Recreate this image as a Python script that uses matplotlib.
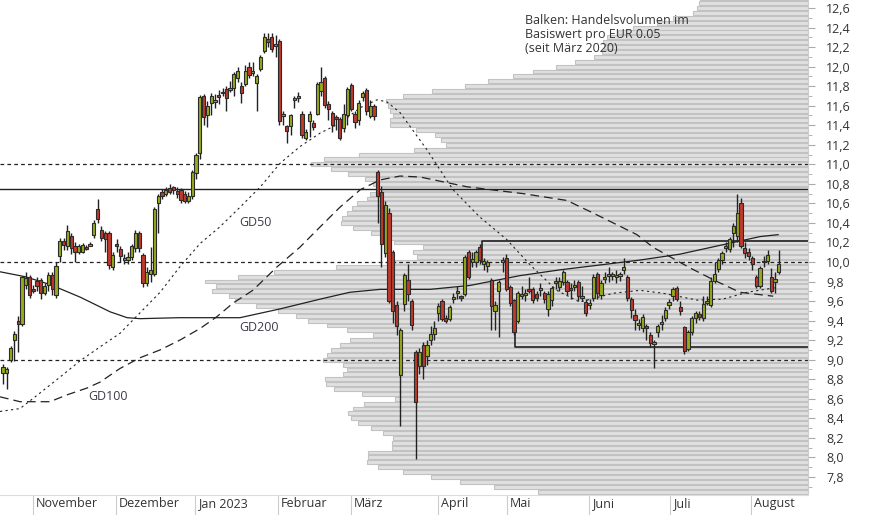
import matplotlib
matplotlib.use("Agg")
import matplotlib.pyplot as plt
import numpy as np

plt.rcParams['font.family'] = ['Open Sans', 'DejaVu Sans']

# ---- candles (open, high, low, close), one per trading day ----
ohlc = [
(8.86,8.96,8.75,8.93),(8.86,8.93,8.70,8.90),(9.00,9.14,8.98,9.12),(9.20,9.29,8.99,9.26),(9.40,9.45,9.08,9.37),
(9.37,9.86,9.35,9.85),(9.76,9.90,9.72,9.84),(9.85,9.87,9.63,9.66),(9.72,9.76,9.68,9.71),(9.81,9.85,9.70,9.75),
(9.82,9.84,9.62,9.68),(9.68,9.78,9.66,9.75),(9.76,9.90,9.70,9.87),(9.87,9.90,9.66,9.72),(9.66,10.00,9.63,9.96),
(10.06,10.25,10.00,10.21),(10.21,10.25,10.12,10.17),(10.16,10.38,10.12,10.32),(10.27,10.30,10.08,10.14),(10.16,10.20,10.00,10.10),
(10.10,10.18,10.08,10.16),(10.10,10.19,10.09,10.17),(10.15,10.17,10.12,10.13),(10.17,10.20,10.16,10.18),(10.28,10.43,10.25,10.40),
(10.54,10.65,10.40,10.44),(10.33,10.37,10.22,10.25),(10.30,10.32,10.10,10.24),(10.30,10.32,9.93,9.97),(9.95,10.10,9.92,10.07),
(10.18,10.24,10.10,10.16),(10.13,10.16,10.00,10.06),(10.03,10.08,9.98,10.04),(10.02,10.10,9.98,10.05),(10.05,10.18,10.02,10.16),
(10.14,10.33,10.10,10.30),(10.30,10.32,10.10,10.14),(10.07,10.09,9.74,9.78),(9.78,9.95,9.75,9.90),(9.88,10.15,9.80,9.92),
(9.88,10.56,9.86,10.54),(10.60,10.70,10.30,10.68),(10.72,10.75,10.65,10.68),(10.70,10.77,10.68,10.74),(10.76,10.80,10.70,10.72),
(10.77,10.78,10.70,10.74),(10.73,10.77,10.66,10.70),(10.74,10.76,10.60,10.63),(10.70,10.73,10.60,10.62),(10.62,10.72,10.60,10.68),
(10.68,10.94,10.65,10.92),(10.91,11.12,10.85,11.10),
(11.12,11.71,11.05,11.69),(11.70,11.72,11.40,11.48),(11.50,11.65,11.38,11.60),(11.63,11.73,11.50,11.70),(11.64,11.72,11.58,11.65),
(11.71,11.76,11.62,11.69),(11.73,11.78,11.70,11.74),(11.77,11.80,11.55,11.68),(11.76,11.85,11.74,11.78),(11.78,11.94,11.70,11.92),
(11.88,12.00,11.84,11.96),(11.80,11.84,11.63,11.73),(11.82,12.02,11.80,11.96),(12.00,12.05,11.88,11.91),(11.94,12.05,11.90,11.95),
(11.83,11.92,11.55,11.90),(11.98,12.12,11.96,12.10),(12.16,12.34,12.14,12.30),(12.28,12.34,12.20,12.25),(12.30,12.34,12.15,12.18),
(12.22,12.32,12.10,12.23),(12.26,12.28,11.40,11.44),(11.50,11.55,11.40,11.51),(11.39,11.40,11.22,11.34),(11.39,11.52,11.30,11.50),
(11.66,11.70,11.58,11.67),(11.68,11.74,11.64,11.69),(11.52,11.55,11.27,11.30),(11.27,11.36,11.25,11.33),(11.44,11.55,11.28,11.52),
(11.42,11.45,11.35,11.38),(11.52,11.84,11.50,11.82),(11.75,12.00,11.70,11.84),(11.88,11.90,11.58,11.61),(11.62,11.65,11.45,11.57),
(11.53,11.55,11.33,11.40),(11.48,11.50,11.35,11.46),(11.46,11.48,11.25,11.27),(11.37,11.62,11.33,11.52),(11.50,11.79,11.40,11.77),
(11.81,11.83,11.55,11.57),(11.52,11.55,11.37,11.43),(11.45,11.66,11.40,11.63),(11.69,11.75,11.65,11.73),(11.76,11.78,11.50,11.55),
(11.49,11.66,11.47,11.60),(11.60,11.62,11.45,11.49),(10.92,10.94,10.40,10.68),(10.72,10.78,9.95,10.18),(10.09,10.62,10.05,10.58),
(10.50,10.55,9.58,9.60),(10.10,10.12,9.38,9.50),(9.56,9.60,9.25,9.35),(8.84,9.32,8.32,9.30),(9.57,9.89,9.50,9.87),
(9.82,9.98,9.60,9.67),(9.60,9.62,9.30,9.36),(9.08,9.10,7.98,8.57),(8.94,9.12,8.85,9.08),(9.15,9.18,8.80,8.94),
(9.04,9.20,8.95,9.15),(9.20,9.35,9.15,9.26),(9.26,9.40,9.20,9.32),(9.48,9.58,9.40,9.55),(9.60,9.62,9.40,9.42),
(9.43,9.46,9.38,9.40),(9.42,9.56,9.40,9.54),(9.63,9.68,9.58,9.64),(9.69,9.75,9.62,9.70),(9.65,9.66,9.60,9.63),
(9.67,10.07,9.65,10.05),(10.10,10.12,9.83,9.85),(10.00,10.10,9.95,10.03),(10.00,10.12,9.95,10.10),(10.15,10.18,9.98,10.02),
(9.98,10.04,9.92,10.01),(9.96,10.02,9.90,10.00),(9.82,9.84,9.30,9.55),(9.50,9.60,9.30,9.56),(9.70,9.82,9.23,9.80),
(10.01,10.05,9.90,10.02),(10.04,10.08,9.70,9.72),(9.74,9.76,9.55,9.58),(9.61,9.62,9.25,9.28),(9.40,9.70,9.38,9.68),
(9.66,9.75,9.62,9.67),(9.67,9.72,9.60,9.68),(9.72,9.85,9.68,9.71),(9.72,9.74,9.58,9.61),(9.67,9.70,9.60,9.63),
(9.72,9.78,9.65,9.73),(9.68,9.70,9.58,9.62),(9.52,9.70,9.45,9.67),(9.61,9.75,9.55,9.73),(9.79,9.85,9.72,9.80),
(9.74,9.85,9.70,9.81),(9.80,9.92,9.76,9.90),(9.80,9.82,9.66,9.70),(9.73,9.78,9.62,9.71),(9.75,9.82,9.70,9.76),
(9.80,9.82,9.60,9.65),(9.64,9.75,9.60,9.65),(9.59,9.62,9.45,9.48),(9.56,9.62,9.52,9.58),(9.63,9.88,9.60,9.85),
(9.88,9.90,9.62,9.68),(9.66,9.82,9.62,9.79),(9.83,9.90,9.78,9.84),(9.86,9.95,9.80,9.87),(9.86,9.90,9.82,9.87),
(9.85,9.92,9.79,9.86),(9.86,9.90,9.81,9.87),(9.92,10.04,9.88,9.95),(9.85,9.87,9.60,9.63),(9.62,9.64,9.43,9.51),
(9.46,9.52,9.30,9.41),(9.36,9.42,9.30,9.37),(9.32,9.47,9.28,9.44),(9.35,9.37,9.20,9.32),(9.25,9.28,9.13,9.17),
(9.17,9.20,8.92,9.18),(9.28,9.37,9.23,9.35),(9.37,9.46,9.30,9.38),(9.43,9.54,9.40,9.51),(9.56,9.62,9.52,9.59),
(9.65,9.74,9.60,9.72),(9.73,9.75,9.60,9.62),(9.54,9.60,9.46,9.50),(9.33,9.35,9.06,9.09),(9.11,9.30,9.09,9.28),
(9.28,9.45,9.25,9.43),(9.43,9.50,9.38,9.48),(9.47,9.50,9.41,9.44),(9.43,9.65,9.40,9.57),(9.59,9.65,9.56,9.60),
(9.56,9.85,9.54,9.81),(9.81,10.00,9.78,9.88),(9.93,10.04,9.90,10.02),(10.02,10.11,9.98,10.09),(10.14,10.20,10.10,10.16),
(10.13,10.26,10.10,10.24),(10.30,10.40,10.15,10.37),(10.27,10.70,10.20,10.50),(10.60,10.66,10.14,10.16),(10.14,10.20,10.04,10.09),
(10.10,10.14,10.02,10.06),(10.04,10.06,9.92,9.98),(9.85,9.87,9.73,9.75),(9.75,9.96,9.73,9.94),(10.00,10.06,9.95,10.01),
(10.01,10.12,9.98,10.07),(9.85,9.94,9.68,9.70),(9.80,9.90,9.68,9.83),(9.90,10.12,9.88,9.98),
]

# moving averages: (trading-day index, price)
gd50_x = [-0.8,4.5,9.8,15.0,20.4,25.6,30.9,36.2,41.5,46.7,52.1,57.3,62.6,68.0,73.2,78.4,83.8,89.0,94.4,98.8,101.4,104.9,112.0,118.9,126.0,133.1,139.3,146.3,152.4,161.2,168.3,174.4,183.4,190.2,196.6,204.5]
gd50_y = [8.47,8.50,8.66,8.82,8.99,9.13,9.27,9.48,9.69,9.95,10.19,10.36,10.56,10.77,11.01,11.18,11.32,11.42,11.58,11.66,11.64,11.53,11.15,10.74,10.46,10.23,9.97,9.71,9.59,9.68,9.71,9.68,9.61,9.62,9.69,9.74]
gd100_x = [-0.8,4.5,12.4,16.9,22.2,25.6,30.9,36.2,41.5,46.7,52.1,56.5,60.8,66.0,72.4,78.4,83.8,89.0,94.4,99.6,104.9,110.2,122.6,137.4,149.0,156.0,167.5,171.8,181.5,187.6,194.7,203.5]
gd100_y = [8.62,8.57,8.57,8.64,8.71,8.77,8.91,9.02,9.10,9.20,9.32,9.44,9.58,9.71,9.95,10.15,10.36,10.56,10.74,10.84,10.88,10.87,10.77,10.70,10.63,10.50,10.28,10.15,9.94,9.82,9.69,9.65]
gd200_x = [-0.8,5.8,12.4,20.4,28.3,32.8,36.2,46.7,62.6,73.2,83.8,91.6,99.6,104.9,112.8,123.4,136.5,147.2,157.8,168.3,178.8,189.4,200.0,204.8]
gd200_y = [9.90,9.85,9.77,9.64,9.49,9.43,9.42,9.43,9.43,9.52,9.62,9.69,9.72,9.72,9.72,9.76,9.86,9.92,9.97,10.02,10.08,10.17,10.26,10.28]

# volume profile, bins of EUR 0.05 from 12.70 downward
prof_top = 12.70
prof_step = 0.05
prof_vol = [108,109,111,115,135,151,175,190,201,205,204,206,214,233,252,275,295,320,343,376,405,422,420,418,415,418,418,392,373,367,362,394,449,484,497,477,460,443,435,427,438,441,451,456,461,466,467,455,437,425,414,385,
            395,391,421,472,534,570,603,592,596,579,573,552,530,512,500,481,461,435,458,468,477,481,485,465,461,465,483,482,474,446,413,444,455,460,457,450,437,425,415,416,416,440,440,441,430,405,377,348,314,270]

month_pos = [7.9,29.85,50.7,72.6,91.9,114.9,133.1,154.8,176.2,197.6]
month_lab = ["November","Dezember","Jan 2023","Februar","März","April","Mai","Juni","Juli","August"]

dashed_levels = [11.0, 10.0, 9.0]
solid_level = 10.75
resist = (126.5, 10.22, 10.0)
support = (135.3, 9.13, 9.6)

XMIN, XMAX = -0.8, 212.7
YMIN, YMAX = 7.615, 12.682

W, H = 874, 515
fig = plt.figure(figsize=(W/100, H/100), dpi=100)
rect = [0, 20/H, 808/W, 1 - 20/H]

axp = fig.add_axes(rect)
axp.set_xlim(808, 0)
axp.set_ylim(YMIN, YMAX)
centers = [prof_top - prof_step*i for i in range(len(prof_vol))]
axp.barh(centers, prof_vol, height=0.040, left=0, color='#e0e0e0', edgecolor='#c2c2c2', linewidth=0.8)
axp.axis('off')

ax = fig.add_axes(rect)
ax.patch.set_alpha(0)
ax.set_xlim(XMIN, XMAX)
ax.set_ylim(YMIN, YMAX)

for lv in dashed_levels:
    ax.axhline(lv, color='#222222', lw=0.9, ls=(0, (3, 2.5)), zorder=2)
ax.axhline(solid_level, color='#222222', lw=1.0, zorder=2)
ax.plot([resist[0], resist[0], XMAX], [resist[2], resist[1], resist[1]], color='#222222', lw=1.2, zorder=2)
ax.plot([support[0], support[0], XMAX], [support[2], support[1], support[1]], color='#222222', lw=1.2, zorder=2)

ax.plot(gd50_x, gd50_y, color='#222222', lw=0.8, ls=(0, (2, 3)), zorder=3)
ax.plot(gd100_x, gd100_y, color='#222222', lw=0.9, ls=(0, (7, 4)), zorder=3)
ax.plot(gd200_x, gd200_y, color='#222222', lw=0.9, zorder=3)

for i, (o, h, l, c) in enumerate(ohlc):
    col = '#98ab1a' if c >= o else '#c0392b'
    ax.vlines(i, l, h, color='#222222', lw=1.0, zorder=4)
    lo, hi = min(o, c), max(o, c)
    if hi - lo < 0.02:
        lo, hi = (lo+hi)/2 - 0.01, (lo+hi)/2 + 0.01
    ax.bar(i, hi - lo, bottom=lo, width=0.85, color=col, edgecolor='#2b2b2b', linewidth=0.8, zorder=5)

tc = '#3b3b4a'
ax.text(62.5, 10.40, "GD50", fontsize=9, color=tc, va='center', zorder=6)
ax.text(62.5, 9.33, "GD200", fontsize=9, color=tc, va='center', zorder=6)
ax.text(22.5, 8.62, "GD100", fontsize=9, color=tc, va='center', zorder=6)
ax.text(138.0, 12.33, "Balken: Handelsvolumen im\nBasiswert pro EUR 0.05\n(seit März 2020)",
        fontsize=9, color='#333333', va='center', ha='left', linespacing=1.1, zorder=6)

ax.yaxis.tick_right()
yt = np.round(np.arange(7.8, 12.61, 0.2), 1)
ax.set_yticks(yt)
ax.set_yticklabels([f"{v:.1f}".replace('.', ',') for v in yt], fontsize=9, color='#333333')
ax.set_yticks(np.round(np.arange(7.7, 12.7, 0.2), 1), minor=True)
ax.tick_params(axis='y', which='major', length=5, color='#aaaaaa', pad=8)
ax.tick_params(axis='y', which='minor', length=3, color='#aaaaaa')
ax.set_xticks(month_pos)
ax.set_xticklabels([])
ax.tick_params(axis='x', length=20, color='#cccccc', direction='out')
for p, lab in zip(month_pos, month_lab):
    ax.text(p + 0.8, -0.004, lab, transform=ax.get_xaxis_transform(), fontsize=9,
            color='#333333', va='top', ha='left')
for s in ['top', 'left']:
    ax.spines[s].set_visible(False)
ax.spines['bottom'].set_color('#dddddd')
ax.spines['right'].set_color('#cccccc')

fig.savefig("out.png", dpi=100)
